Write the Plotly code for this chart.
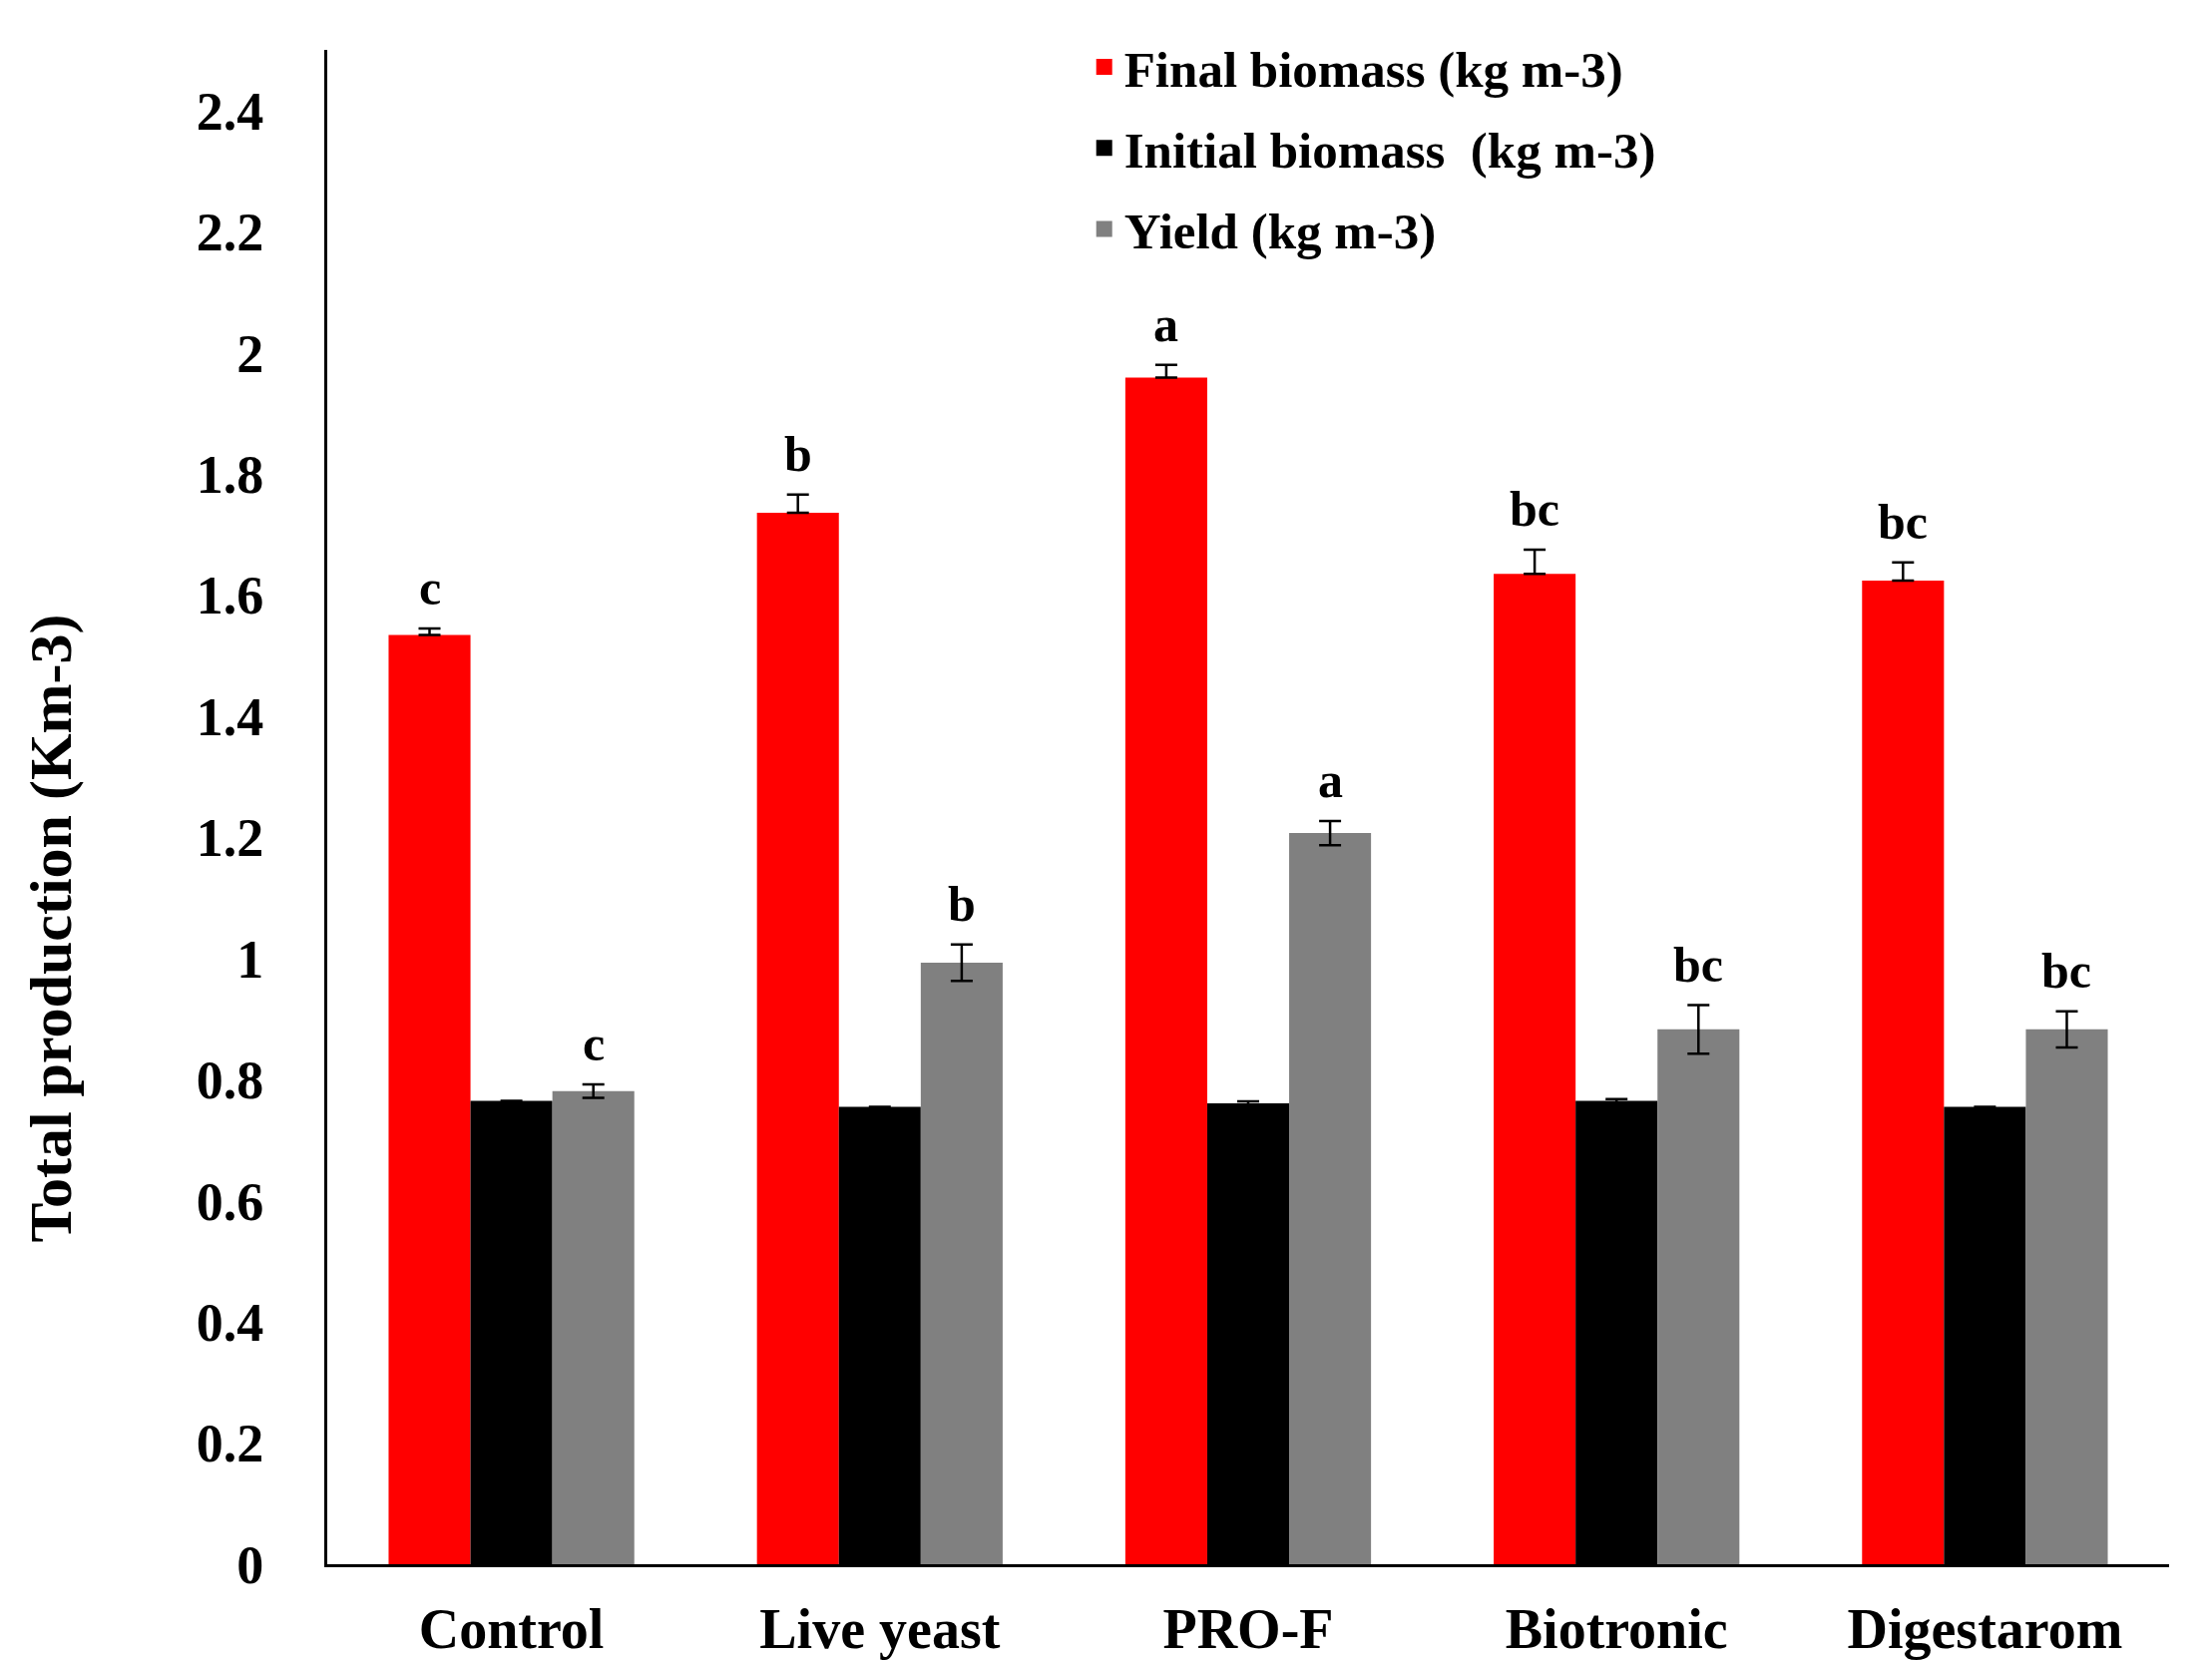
import plotly.graph_objects as go

categories = ["Control", "Live yeast", "PRO-F", "Biotronic", "Digestarom"]
final_biomass = [1.534, 1.736, 1.959, 1.635, 1.624]
final_err = [0.011, 0.030, 0.021, 0.040, 0.030]
initial_biomass = [0.765, 0.755, 0.761, 0.765, 0.755]
initial_err = [0.0, 0.0, 0.003, 0.003, 0.0]
yield_vals = [0.781, 0.993, 1.207, 0.883, 0.883]
yield_err = [0.011, 0.030, 0.020, 0.040, 0.030]
final_letters = ["c", "b", "a", "bc", "bc"]
yield_letters = ["c", "b", "a", "bc", "bc"]
series_names = ["Final biomass (kg m-3)", "Initial biomass  (kg m-3)", "Yield (kg m-3)"]
colors = ["#FF0000", "#000000", "#808080"]
y_ticks = [0, 0.2, 0.4, 0.6, 0.8, 1, 1.2, 1.4, 1.6, 1.8, 2, 2.2, 2.4]

FONT = "Liberation Serif"
BARGAP = 0.333
bw = (1 - BARGAP) / 3

err_style = dict(color="black", thickness=2.5, width=11)

fig = go.Figure()
fig.add_trace(go.Bar(
    x=categories, y=final_biomass, name=series_names[0], marker_color=colors[0],
    marker_line_width=0, showlegend=False,
    error_y=dict(type="data", array=final_err, arrayminus=[0] * len(final_err), symmetric=False, **err_style),
))
fig.add_trace(go.Bar(
    x=categories, y=initial_biomass, name=series_names[1], marker_color=colors[1],
    marker_line_width=0, showlegend=False,
    error_y=dict(type="data", array=initial_err, **err_style),
))
fig.add_trace(go.Bar(
    x=categories, y=yield_vals, name=series_names[2], marker_color=colors[2],
    marker_line_width=0, showlegend=False,
    error_y=dict(type="data", array=yield_err, **err_style),
))

# legend entries
for i, (nm, c) in enumerate(zip(series_names, colors)):
    fig.add_trace(go.Scatter(
        x=[None], y=[None], mode="markers", name=nm, legendgroup=f"g{i}",
        marker=dict(symbol="square", size=16, color=c),
    ))

# significance letters
letter_font = dict(family=FONT, size=50, color="black", weight="bold")
for i in range(len(categories)):
    fig.add_annotation(x=i - bw, y=final_biomass[i] + final_err[i], text=final_letters[i],
                       xref="x", yref="y", showarrow=False, yanchor="bottom", yshift=11,
                       font=letter_font)
    fig.add_annotation(x=i + bw, y=yield_vals[i] + yield_err[i], text=yield_letters[i],
                       xref="x", yref="y", showarrow=False, yanchor="bottom", yshift=11,
                       font=letter_font)

# y-axis title
fig.add_annotation(x=-0.15, y=0.42, xref="paper", yref="paper", text="Total production (Km-3)",
                   textangle=-90, showarrow=False, xanchor="center", yanchor="middle",
                   font=dict(family=FONT, size=60, color="black", weight="bold"))

fig.update_layout(
    width=2217, height=1665,
    margin=dict(l=320, r=51, t=42, b=105, autoexpand=False),
    paper_bgcolor="white", plot_bgcolor="white",
    barmode="group", bargap=BARGAP, bargroupgap=0,
    font=dict(family=FONT, size=54, color="black", weight="bold"),
    legend=dict(x=0.411, y=1.015, xanchor="left", yanchor="top",
                font=dict(family=FONT, size=51, color="black", weight="bold"),
                bgcolor="rgba(0,0,0,0)", tracegroupgap=12, itemwidth=30),
    xaxis=dict(type="category", range=[-0.5, 4.5], showline=True, linecolor="black", linewidth=3,
               ticks="", showgrid=False, zeroline=False, ticklabelstandoff=14,
               tickfont=dict(family=FONT, size=56, color="black", weight="bold")),
    yaxis=dict(range=[0, 2.5], tickvals=y_ticks, ticktext=[f"{v:g}" for v in y_ticks],
               showline=True, linecolor="black", linewidth=3, ticks="", showgrid=False,
               zeroline=False, ticklabelstandoff=50,
               tickfont=dict(family=FONT, size=54, color="black", weight="bold")),
)

fig.write_html("out.html")
